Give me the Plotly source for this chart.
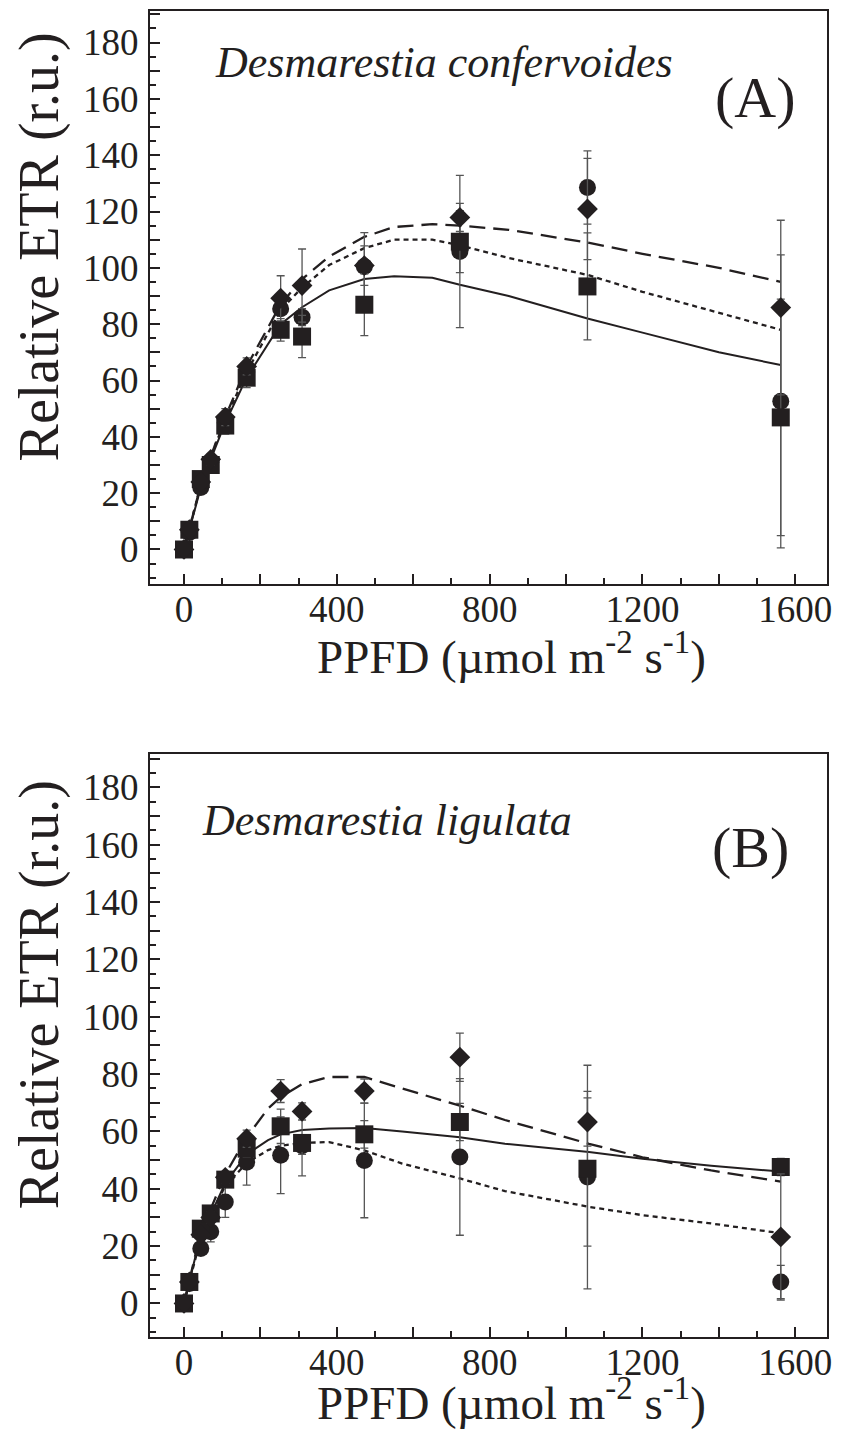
import plotly.graph_objects as go

# ---------------- data ----------------
PPFD = [0, 14, 44, 70, 108, 164, 253, 309, 472, 722, 1056, 1562]

A_circle = [0, 6, 22, 31, 45, 63, 85.5, 82.5, 100.5, 105.8, 128.5, 52.6]
A_circle_err = [0, 1, 1.5, 2, 2.5, 3, 2, 3, 12, 27, 13, 52]
A_square = [0, 7, 25, 30, 44, 61, 78, 75.6, 86.9, 109.3, 93.4, 46.9]
A_square_err = [0, 1, 1.5, 2, 3, 3.5, 4, 7.5, 11, 11, 19, 42]
A_diamond = [0, 7, 24, 32, 47, 65, 89.2, 93.7, 100.8, 117.9, 120.9, 85.9]
A_diamond_err = [0, 1, 1.5, 2, 3, 3, 8, 13, 7, 5, 18, 31]

B_circle = [0, 7, 19.2, 25, 35.4, 49.3, 51.7, 55, 49.9, 51.1, 44.1, 7.5]
B_circle_err = [0, 1, 1.5, 3.5, 5.4, 8, 13.4, 3, 20, 27.3, 39, 5.8]
B_square = [0, 7.5, 26.1, 31.4, 43.2, 54, 61.8, 56, 59, 63.3, 47, 47.6]
B_square_err = [0, 1, 1.5, 2, 2.5, 3, 6, 11.5, 4.8, 6.5, 27, 3]
B_diamond = [0, 7.5, 24, 30, 44, 57.5, 74.1, 67, 74.1, 85.9, 63.3, 23.2]
B_diamond_err = [0, 1, 1.5, 2, 2, 3, 4, 3, 4.2, 8.4, 8.4, 22]

# fitted curves
A_fit_x = [0, 14, 44, 70, 108, 164, 253, 309, 380, 472, 550, 650, 722, 850, 1056, 1200, 1400, 1562]
A_fit_solid = [0, 7, 22, 32, 45, 61, 80, 86, 92, 96, 97, 96.5, 94, 90, 82, 77, 70, 65.5]
A_fit_dotted = [0, 7, 23, 33, 46, 63, 85, 93, 101, 107, 110, 110, 108, 103.5, 97.5, 91.5, 84, 78]
A_fit_dashed = [0, 7, 23, 33, 47, 65, 87, 96, 104, 111, 114.5, 115.5, 115, 113.5, 109, 105, 100, 95]

B_fit_x = [0, 14, 44, 70, 108, 164, 220, 253, 309, 380, 472, 571, 722, 840, 1060, 1200, 1380, 1562]
B_fit_solid = [0, 7.5, 24, 31, 42, 52, 57, 59, 60.5, 61, 61.2, 60, 58, 55.7, 52.8, 50.5, 48, 46]
B_fit_dotted = [0, 7.5, 23, 31, 41, 49, 53.5, 55, 56, 56.3, 53.4, 48.8, 43.6, 39.2, 33.7, 30.8, 27.9, 24.5]
B_fit_dashed = [0, 8, 25, 33, 45, 58, 68, 72, 76.5, 79, 79, 75, 69, 64, 55.7, 51, 46.4, 42.5]

X_TICKS = [0, 200, 400, 600, 800, 1000, 1200, 1400, 1600]
X_LABELS = ["0", "", "400", "", "800", "", "1200", "", "1600"]
Y_TICKS = list(range(0, 200, 10))
Y_LABELS = [str(v) if v % 20 == 0 else "" for v in Y_TICKS]

SPECIES = ["Desmarestia confervoides", "Desmarestia ligulata"]
PANELS = ["(A)", "(B)"]
X_TITLE = "PPFD (µmol m<sup>-2</sup> s<sup>-1</sup>)"
Y_TITLE = "Relative ETR (r.u.)"

# ---------------- styling ----------------
INK = "#231f20"
FONT = "Liberation Serif"
fig = go.Figure()


def add_panel(xa, ya, fx, solid, dotted, dashed, circ, circ_e, sq, sq_e, dia, dia_e):
    for yy, dash, w in [(solid, "solid", 2), (dotted, "5px,4px", 2.3), (dashed, "16px,8px", 2.3)]:
        fig.add_trace(go.Scatter(x=fx, y=yy, mode="lines", xaxis=xa, yaxis=ya,
                                 line=dict(color=INK, width=w, dash=dash), showlegend=False))
    for yy, ee, sym, sz in [(circ, circ_e, "circle", 17), (sq, sq_e, "square", 18), (dia, dia_e, "diamond", 16)]:
        fig.add_trace(go.Scatter(x=PPFD, y=yy, mode="markers", xaxis=xa, yaxis=ya,
                                 marker=dict(symbol=sym, size=sz, color=INK, line=dict(width=0)),
                                 error_y=dict(type="data", array=ee, visible=True, color="#555555",
                                              thickness=1.3, width=4),
                                 showlegend=False))


add_panel("x", "y", A_fit_x, A_fit_solid, A_fit_dotted, A_fit_dashed,
          A_circle, A_circle_err, A_square, A_square_err, A_diamond, A_diamond_err)
add_panel("x2", "y2", B_fit_x, B_fit_solid, B_fit_dotted, B_fit_dashed,
          B_circle, B_circle_err, B_square, B_square_err, B_diamond, B_diamond_err)

xcommon = dict(range=[-89, 1683], tickmode="array", tickvals=X_TICKS, ticktext=X_LABELS,
               ticks="inside", ticklen=10, tickwidth=2, tickcolor=INK,
               minor=dict(dtick=100, tick0=0, ticks="inside", ticklen=6, tickwidth=1.5, tickcolor=INK),
               showgrid=False, zeroline=False, showline=True, linewidth=2, linecolor=INK, mirror=True,
               tickfont=dict(family=FONT, size=37, color=INK), ticklabelstandoff=-8,
               ticklabeloverflow="allow")
ycommon = dict(tickmode="array", tickvals=Y_TICKS, ticktext=Y_LABELS,
               ticks="inside", ticklen=10, tickwidth=2, tickcolor=INK,
               minor=dict(dtick=5, tick0=0, ticks="inside", ticklen=6, tickwidth=1.5, tickcolor=INK),
               showgrid=False, zeroline=False, showline=True, linewidth=2, linecolor=INK, mirror=True,
               tickfont=dict(family=FONT, size=37, color=INK), ticklabelstandoff=2)

# the page has an 8px body margin, so the figure is laid out smaller and shifted
W, H = 825, 1429
pl, pr, pt, pb = 142, 1, 1, 100
pw, ph = W - pl - pr, H - pt - pb

fig.update_layout(
    width=W, height=H,
    margin=dict(l=pl, r=pr, t=pt, b=pb),
    paper_bgcolor="white", plot_bgcolor="white",
    xaxis=dict(anchor="y", domain=[0, 1], **xcommon),
    yaxis=dict(anchor="x", domain=[0.568, 1], range=[-12.2, 191.2], **ycommon),
    xaxis2=dict(anchor="y2", domain=[0, 1], **xcommon),
    yaxis2=dict(anchor="x2", domain=[0, 0.4395], range=[-11.7, 191.6], **ycommon),
)

ann = []
# species names and panel letters (data coordinates)
ann.append(dict(x=75, y=172.8, xref="x", yref="y", text=f"<i>{SPECIES[0]}</i>", showarrow=False,
                xanchor="left", yanchor="middle", font=dict(family=FONT, size=44, color=INK)))
ann.append(dict(x=1496, y=160.5, xref="x", yref="y", text=PANELS[0], showarrow=False,
                xanchor="center", yanchor="middle", font=dict(family=FONT, size=58, color=INK)))
ann.append(dict(x=41, y=168.4, xref="x2", yref="y2", text=f"<i>{SPECIES[1]}</i>", showarrow=False,
                xanchor="left", yanchor="middle", font=dict(family=FONT, size=44, color=INK)))
ann.append(dict(x=1483, y=159.1, xref="x2", yref="y2", text=PANELS[1], showarrow=False,
                xanchor="center", yanchor="middle", font=dict(family=FONT, size=58, color=INK)))


def px(xp):
    return (xp - pl) / pw


def py(yp):
    return (H - pb - yp) / ph


# axis titles (figure pixel positions)
for yc, xc_t in [(237, 644), (986, 1392)]:
    ann.append(dict(x=px(31), y=py(yc), xref="paper", yref="paper", text=Y_TITLE, textangle=-90,
                    showarrow=False, xanchor="center", yanchor="middle",
                    font=dict(family=FONT, size=56, color=INK)))
    ann.append(dict(x=px(506), y=py(xc_t), xref="paper", yref="paper", text=X_TITLE,
                    showarrow=False, xanchor="center", yanchor="middle",
                    font=dict(family=FONT, size=47, color=INK)))

fig.update_layout(annotations=ann)
fig.write_html("out.html")
